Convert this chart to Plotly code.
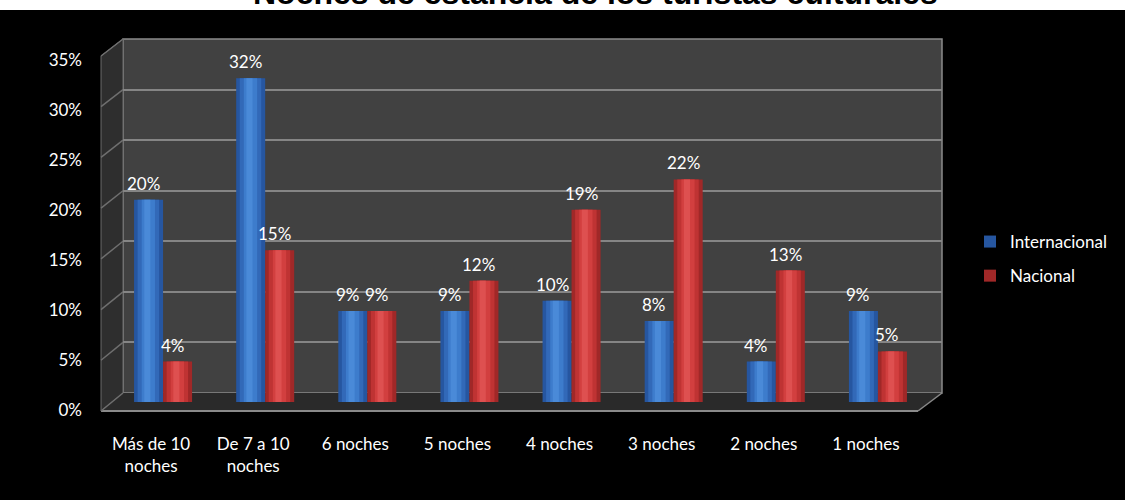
import plotly.graph_objects as go

# ---------------- data ----------------
categories = ["Más de 10<br>noches", "De 7 a 10<br>noches", "6 noches", "5 noches",
              "4 noches", "3 noches", "2 noches", "1 noches"]
internacional = [20, 32, 9, 9, 10, 8, 4, 9]
nacional = [4, 15, 9, 12, 19, 22, 13, 5]
series_names = ["Internacional", "Nacional"]
y_ticks = [0, 5, 10, 15, 20, 25, 30, 35]
y_ticklabels = ["0%", "5%", "10%", "15%", "20%", "25%", "30%", "35%"]
title_text = "Noches de estancia de los turistas culturales"

# ---------------- geometry helpers ----------------
W, H = 1125, 500
def fx(px):
    return px / W
def fy(py):
    return 1 - py / H

YMAX = 35
# front plane (tick labels), back wall (gridlines), middle (bars)
FRONT_X = (100, 917); FRONT_Y = (410, 60)
BACK_X = (123, 942);  BACK_Y = (393, 39)
BAR_X = (112, 929);   BAR_Y = (402, 48)
EDGE_FRONT = (101, 411, 56)   # x, y at 0, y at max (front edge of floor / side wall)

fig = go.Figure()

# bars with cylinder-like shading (layered bars of decreasing width)
bw = 0.284
blue_layers = [("#2656a0", 0.0, bw), ("#3269b8", 0.035, 0.21), ("#3d7ccc", 0.075, 0.13), ("#4a8ad8", 0.1, 0.06)]
red_layers = [("#a02828", 0.0, bw), ("#bf3333", 0.035, 0.21), ("#d23f3f", 0.075, 0.13), ("#de5050", 0.1, 0.06)]

for name, vals, layers, base_off in [(series_names[0], internacional, blue_layers, -bw),
                                     (series_names[1], nacional, red_layers, 0.0)]:
    for k, (col, off, wdt) in enumerate(layers):
        fig.add_trace(go.Bar(
            x=list(range(len(categories))), y=vals, name=name,
            xaxis="x3", yaxis="y3",
            offset=base_off + off, width=wdt,
            marker=dict(color=col, line=dict(width=0)),
            showlegend=(k == 0), legendgroup=name,
            hoverinfo="skip" if k else None,
        ))
    for i, v in enumerate(vals):
        fig.add_annotation(
            x=i + base_off + bw / 2, y=v, xref="x3", yref="y3",
            text=f"{v}%", showarrow=False, yanchor="bottom",
            yshift=4, xshift=-5,
            font=dict(family="Lato", size=17, color="white"),
        )

# dummy traces so the other subplots exist
fig.add_trace(go.Scatter(x=[0], y=[0], xaxis="x", yaxis="y", mode="markers",
                         marker=dict(opacity=0), showlegend=False, hoverinfo="skip"))
fig.add_trace(go.Scatter(x=[0], y=[0], xaxis="x2", yaxis="y2", mode="markers",
                         marker=dict(opacity=0), showlegend=False, hoverinfo="skip"))

shapes = []
# white strip at top
shapes.append(dict(type="rect", xref="paper", yref="paper", x0=0, x1=1, y0=fy(10), y1=1.05,
                   fillcolor="white", line=dict(width=0), layer="below"))
# back wall
shapes.append(dict(type="rect", xref="paper", yref="paper",
                   x0=fx(BACK_X[0]), x1=fx(BACK_X[1]), y0=fy(BACK_Y[0]), y1=fy(BACK_Y[1]),
                   fillcolor="#414141", line=dict(color="#8a8a8a", width=1.5), layer="below"))
# side wall
ex, ey0, ey1 = EDGE_FRONT
shapes.append(dict(type="path", xref="paper", yref="paper",
                   path=f"M {fx(ex)},{fy(ey1)} L {fx(BACK_X[0])},{fy(BACK_Y[1])} L {fx(BACK_X[0])},{fy(BACK_Y[0])} L {fx(ex)},{fy(ey0)} Z",
                   fillcolor="#2e2e2e", line=dict(color="#6a6a6a", width=1), layer="below"))
# floor
shapes.append(dict(type="path", xref="paper", yref="paper",
                   path=f"M {fx(ex)},{fy(ey0)} L {fx(BACK_X[0])},{fy(BACK_Y[0])} L {fx(BACK_X[1])},{fy(BACK_Y[0])} L {fx(FRONT_X[1]+1)},{fy(ey0)} Z",
                   fillcolor="#2a2a2a", line=dict(width=0), layer="below"))
shapes.append(dict(type="line", xref="paper", yref="paper",
                   x0=fx(ex), x1=fx(FRONT_X[1] + 1), y0=fy(ey0), y1=fy(ey0),
                   line=dict(color="#8a8a8a", width=2), layer="below"))
shapes.append(dict(type="line", xref="paper", yref="paper",
                   x0=fx(FRONT_X[1] + 1), x1=fx(BACK_X[1]), y0=fy(ey0), y1=fy(BACK_Y[0]),
                   line=dict(color="#8a8a8a", width=1.5), layer="below"))
# slanted gridline continuations on the side wall
for t in y_ticks:
    yf = ey0 - t * (ey0 - ey1) / YMAX
    yb = BACK_Y[0] - t * (BACK_Y[0] - BACK_Y[1]) / YMAX
    shapes.append(dict(type="line", xref="paper", yref="paper",
                       x0=fx(ex), x1=fx(BACK_X[0]), y0=fy(yf), y1=fy(yb),
                       line=dict(color="#6f6f6f", width=1.5), layer="below"))

axis_common = dict(showline=False, zeroline=False, ticks="", automargin=False)
fig.update_layout(
    template="none",
    width=W, height=H,
    margin=dict(l=0, r=0, t=0, b=0, pad=0, autoexpand=False),
    paper_bgcolor="black", plot_bgcolor="rgba(0,0,0,0)",
    barmode="overlay",
    font=dict(family="Lato", size=17, color="white"),
    shapes=shapes,
    xaxis=dict(domain=[fx(FRONT_X[0]), fx(FRONT_X[1])], range=[-0.5, len(categories) - 0.5],
               tickvals=list(range(len(categories))), ticktext=categories,
               showgrid=False, ticklabelstandoff=22, anchor="y",
               tickfont=dict(family="Lato", size=17, color="white"), **axis_common),
    yaxis=dict(domain=[fy(FRONT_Y[0]), fy(FRONT_Y[1])], range=[0, YMAX],
               tickvals=y_ticks, ticktext=y_ticklabels, showgrid=False, ticklabelstandoff=17,
               anchor="x", tickfont=dict(family="Lato", size=17, color="white"), **axis_common),
    xaxis2=dict(domain=[fx(BACK_X[0]), fx(BACK_X[1])], range=[0, 1], showgrid=False,
                showticklabels=False, anchor="y2", **axis_common),
    yaxis2=dict(domain=[fy(BACK_Y[0]), fy(BACK_Y[1])], range=[0, YMAX], tickvals=y_ticks,
                showgrid=True, gridcolor="#858585", gridwidth=2, showticklabels=False,
                anchor="x2", **axis_common),
    xaxis3=dict(domain=[fx(BAR_X[0]), fx(BAR_X[1])], range=[-0.5, len(categories) - 0.5],
                showgrid=False, showticklabels=False, anchor="y3", **axis_common),
    yaxis3=dict(domain=[fy(BAR_Y[0]), fy(BAR_Y[1])], range=[0, YMAX], showgrid=False,
                showticklabels=False, anchor="x3", **axis_common),
    legend=dict(x=fx(970), y=fy(224), xanchor="left", yanchor="top",
                font=dict(family="Lato", size=17, color="white"),
                bgcolor="rgba(0,0,0,0)", tracegroupgap=9, itemwidth=30),
    showlegend=True,
)

fig.add_annotation(x=fx(595), y=1 + 6.9 / H, xref="paper", yref="paper",
                   text=f"<b>{title_text}</b>", showarrow=False, yanchor="middle",
                   font=dict(family="Liberation Sans", size=32, color="black"))

fig.write_html("out.html")
